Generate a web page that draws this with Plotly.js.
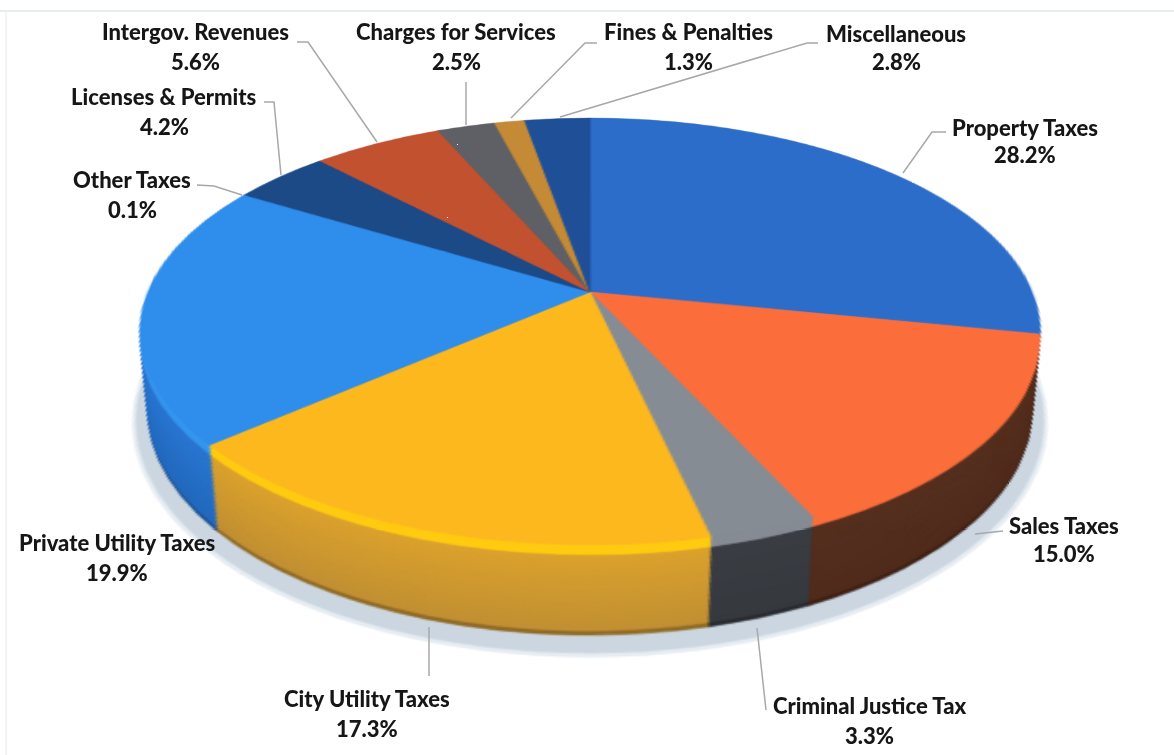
<!DOCTYPE html>
<html><head><meta charset="utf-8">
<script src="https://cdn.plot.ly/plotly-3.0.1.min.js"></script>
<style>html,body{margin:0;padding:0;background:#fff}#chart{width:1174px;height:755px;overflow:hidden}</style>
</head><body><div id="chart"></div>
<script>
const categories=["Property Taxes","Sales Taxes","Criminal Justice Tax","City Utility Taxes","Private Utility Taxes","Other Taxes","Licenses & Permits","Intergov. Revenues","Charges for Services","Fines & Penalties","Miscellaneous"];
const shares=[28.2,15.0,3.3,17.3,19.9,0.1,4.2,5.6,2.5,1.3,2.8];
const topColors=["#2d6dca","#fb6e3b","#868c94","#fdb81e","#2f8deb","#2f8deb","#1c4a86","#c2512f","#5f6065","#c48a35","#1e4f97"];
const rimColors=["#2d6dca","#fb6e3b","#868c94","#ffcb10","#3596ee","#3596ee","#1c4a86","#c2512f","#5f6065","#c48a35","#1e4f97"];
const wallTop=["#1d4a8a","#56301f","#3b3e44","#dfa42c","#2a78d4","#2a78d4","#123058","#7c3420","#3c3d40","#7c5820","#123058"];
const wallBottom=["#173c70","#502b1c","#36393e","#c08f33","#2268bc","#2268bc","#0e2848","#6a2c1a","#333436","#6a4a1a","#0e2848"];
const labelX=[1025,1064,869,367,117,132,164,195,456,688,896];
const labelY=[127,525,705,698,542,179,96,32,32,32,33];
const lineGap=[28,28,30,30,30,30,30,30,30,30,29];
const leaders=[
 [[946,132],[932,132],[903,173]],
 [[1003,531],[975,534]],
 [[757,628],[766,710]],
 [[429,627],[429,676]],
 [[197,185],[214,186],[242,195]],
 [[264,102],[274,102],[281,175]],
 [[297,42],[308,42],[377,142]],
 [[466,82],[466,125]],
 [[597,43],[585,43],[511,118]],
 [[818,43],[807,43],[560,117]]
];
const W=1174,H=755;
const CX=587,CY=300,R0=220;
const TILT=62.2,PERSP=2114,SCALE=442/220;
const DEPTH=78,SHRINK=0.082,LAYERS=44,RIM=5;

function mix(a,b,t){
  const p=c=>[1,3,5].map(i=>parseInt(c.substr(i,2),16));
  const A=p(a),B=p(b);
  return 'rgb('+A.map((v,i)=>Math.round(v+(B[i]-v)*t)).join(',')+')';
}
function pie(offset,radius,colors,vals,labs){
  return {type:'pie',values:vals||shares,labels:labs||categories,sort:false,direction:'clockwise',rotation:0,
    textinfo:'none',hoverinfo:'skip',showlegend:false,
    marker:{colors:colors,line:{width:0.6,color:colors}},
    domain:{x:[(CX-radius)/W,(CX+radius)/W],y:[1-(CY+offset+radius)/H,1-(CY+offset-radius)/H]}};
}
const traces=[];
// soft shadow
traces.push(pie(DEPTH+8,R0*(1-SHRINK)*1.027,['#e6ecf2'],[100],['Shadow']));
traces.push(pie(DEPTH+7,R0*(1-SHRINK)*1.02,['#cbd6e0'],[100],['Shadow']));
// side wall from lowest up
for(let i=LAYERS;i>=1;i--){
  const t=i/LAYERS, off=DEPTH*t, r=R0*(1-SHRINK*t);
  let cols;
  if(i<=RIM) cols=rimColors;
  else if(i>=LAYERS-1) cols=wallBottom.map(c=>mix(c,'#000000',0.25));
  else cols=wallTop.map((c,k)=>mix(c,wallBottom[k],t));
  traces.push(pie(off,r,cols));
}
traces.push(pie(0,R0,topColors));

const annotations=[];
categories.forEach((c,i)=>{
  const base={xref:'paper',yref:'paper',showarrow:false,xanchor:'center',yanchor:'middle',
    x:labelX[i]/W,font:{family:'Lato, "Open Sans", sans-serif',size:22,color:'#161616',weight:900}};
  annotations.push(Object.assign({},base,{y:1-labelY[i]/H,text:c.replace('&','&amp;')}));
  annotations.push(Object.assign({},base,{y:1-(labelY[i]+lineGap[i])/H,text:shares[i].toFixed(1)+'%'}));
});
const shapes=leaders.map(p=>({type:'path',xref:'paper',yref:'paper',layer:'above',
  path:p.map((q,i)=>(i?'L':'M')+(q[0]/W)+' '+(1-q[1]/H)).join(' '),
  line:{color:'#a8a8a8',width:1.5}}));
shapes.push({type:'line',xref:'paper',yref:'paper',layer:'above',x0:0,x1:1,y0:1-11/H,y1:1-11/H,line:{color:'#dfe5f0',width:1.5}});
shapes.push({type:'line',xref:'paper',yref:'paper',layer:'above',x0:6/W,x1:6/W,y0:0,y1:1-11/H,line:{color:'#eef0f3',width:1.5}});

Plotly.newPlot('chart',traces,{width:W,height:H,margin:{l:0,r:0,t:0,b:0},paper_bgcolor:'rgba(0,0,0,0)',plot_bgcolor:'rgba(0,0,0,0)',
  showlegend:false,annotations:annotations,shapes:shapes},{displayModeBar:false,staticPlot:true}).then(gd=>{
  const svg=gd.querySelector('.pielayer').ownerSVGElement;
  svg.style.transformOrigin=CX+'px '+CY+'px';
  svg.style.transform='translate(3px,-8px) perspective('+PERSP+'px) rotateX('+TILT+'deg) scale('+SCALE+')';
});
</script></body></html>
